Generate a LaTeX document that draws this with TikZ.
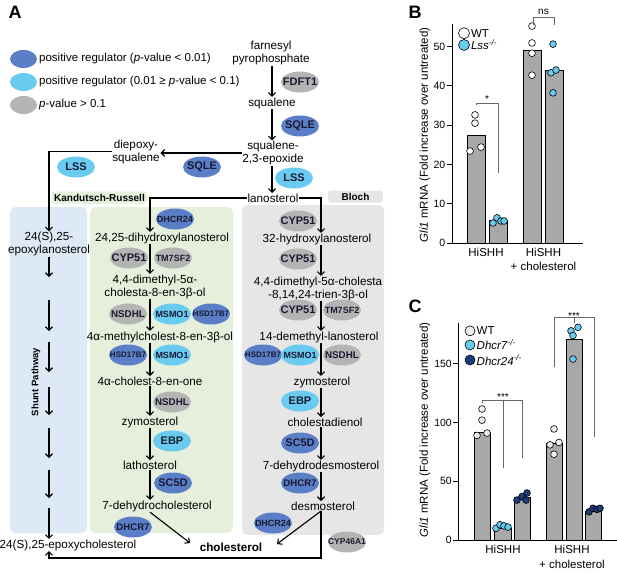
\documentclass[tikz,border=0pt]{standalone}
\usepackage{fontspec}
\setmainfont{Liberation Sans}
\usetikzlibrary{arrows.meta,positioning,shapes.geometric}

\definecolor{pstrong}{HTML}{5B7FC7}
\definecolor{pweak}{HTML}{69CBF0}
\definecolor{pnone}{HTML}{B4B4B4}
\definecolor{enztext}{HTML}{1A1A33}
\definecolor{shuntbg}{HTML}{DDE9F5}
\definecolor{krbg}{HTML}{E5EFDC}
\definecolor{blochbg}{HTML}{E6E6E6}
\definecolor{barfill}{HTML}{A8A8A8}
\definecolor{navy}{HTML}{1F3B7A}
\definecolor{wtgray}{HTML}{EEEEEE}
\definecolor{bracket}{HTML}{666666}

\begin{document}
\begin{tikzpicture}[x=1pt,y=-1pt,
>={Straight Barb[length=3.5pt,width=7pt]},
metab/.style={inner sep=0.5pt,align=center,font=\fontsize{11.7}{13}\selectfont},
enzyme/.style={ellipse,inner xsep=-8pt,inner ysep=0pt,minimum width=38pt,minimum height=21pt,text=enztext},
enzfs/.style={font=\fontsize{#1}{#1}\selectfont\bfseries},
enzhi/.style={enzyme,fill=pstrong,enzfs=11},
enzmid/.style={enzyme,fill=pweak,enzfs=11},
enzns/.style={enzyme,fill=pnone,enzfs=11},
flow/.style={->,line width=1.1pt},
panelbg/.style={rounded corners=6pt},
tagbox/.style={rounded corners=3pt,inner sep=1pt,minimum height=12pt,font=\fontsize{10}{10}\selectfont\bfseries},
barbox/.style={fill=barfill,draw=black,line width=0.8pt},
axline/.style={draw=black,line width=0.9pt},
ticklab/.style={anchor=east,inner sep=0pt,font=\fontsize{10.5}{11}\selectfont},
axlab/.style={rotate=90,inner sep=0pt,font=\fontsize{11.5}{12}\selectfont},
grplab/.style={anchor=north,inner sep=0pt,align=center,font=\fontsize{11.5}{14.5}\selectfont},
sigline/.style={draw=bracket,line width=0.9pt},
sigtxt/.style={inner sep=0pt,font=\fontsize{10}{10}\selectfont},
dotbase/.style={draw=black,line width=0.6pt},
legdot/.style={dotbase,circle,inner sep=0pt,minimum size=10pt},
legtxt/.style={anchor=west,inner sep=0pt,font=\fontsize{11.5}{12}\selectfont},
paneltag/.style={font=\fontsize{18}{18}\selectfont\bfseries,inner sep=0pt}
]
\useasboundingbox (0,0) rectangle (617,572);

% panel tags
\node[paneltag] (tagA) at (15,12) {A};
\node[paneltag] (tagB) at (415,12) {B};
\node[paneltag] (tagC) at (415,306) {C};

% legend
\node[enzhi,minimum width=27pt,minimum height=18pt] (lgA1) at (23.5,59) {};
\node[legtxt] (lgA1t) at (39,59) {positive regulator (\textit{p}-value < 0.01)};
\node[enzmid,minimum width=27pt,minimum height=18pt] (lgA2) at (23.5,82) {};
\node[legtxt] (lgA2t) at (39,82) {positive regulator (0.01 ≥ \textit{p}-value < 0.1)};
\node[enzns,minimum width=27pt,minimum height=18pt] (lgA3) at (23.5,105) {};
\node[legtxt] (lgA3t) at (39,105) {\textit{p}-value > 0.1};

% pathway panels
\fill[shuntbg,panelbg] (10,207) rectangle (87,533);
\fill[krbg,panelbg] (90,207) rectangle (233,533);
\fill[blochbg,panelbg] (242,205) rectangle (384,535);
\node[tagbox,fill=krbg,minimum width=95pt] (krtag) at (99.5,197.5) {Kandutsch-Russell};
\node[tagbox,fill=blochbg,minimum width=55pt] (bltag) at (355.5,196.5) {Bloch};
\node[rotate=90,inner sep=0pt,font=\fontsize{9.5}{10}\selectfont\bfseries] (shtag) at (36,382) {Shunt Pathway};

\coordinate (mainx) at (272,0);
\coordinate (shx) at (49,0);
\coordinate (krx) at (150,0);
\coordinate (blx) at (321,0);
\coordinate (loopy) at (0,558);
\coordinate (krtip) at (190,543);
\coordinate (bltip) at (277,544);

% metabolites
\node[metab] (fpp) at (271,53) {farnesyl\\pyrophosphate};
\node[metab] (sq) at (272,103) {squalene};
\node[metab] (ep) at (273,153) {squalene-\\2,3-epoxide};
\node[metab] (lano) at (273,198) {lanosterol};
\node[metab] (diep) at (136,151.5) {diepoxy-\\squalene};
\node[metab] (epl) at (49,244) {24(S),25-\\epoxylanosterol};
\node[metab] (epc) at (68,545) {24(S),25-epoxycholesterol};
\node[metab,font=\fontsize{11.7}{13}\selectfont\bfseries] (chol) at (231,547) {cholesterol};

\node[metab] (dhl) at (162,238) {24,25-dihydroxylanosterol};
\node[metab] (dmc) at (155,286.5) {4,4-dimethyl-5α-\\cholesta-8-en-3β-ol};
\node[metab] (mc) at (160,337) {4α-methylcholest-8-en-3β-ol};
\node[metab] (co) at (150,381) {4α-cholest-8-en-one};
\node[metab] (zya) at (150,422) {zymosterol};
\node[metab] (la) at (150,465) {lathosterol};
\node[metab] (dhc) at (157,506) {7-dehydrocholesterol};

\node[metab] (hl) at (317,239) {32-hydroxylanosterol};
\node[metab] (dmct) at (318,288.5) {4,4-dimethyl-5α-cholesta\\-8,14,24-trien-3β-ol};
\node[metab] (dml) at (319,337) {14-demethyl-lanosterol};
\node[metab] (zyb) at (322,382) {zymosterol};
\node[metab] (cd) at (325,422) {cholestadienol};
\node[metab] (dhd) at (321,466) {7-dehydrodesmosterol};
\node[metab] (des) at (323,506) {desmosterol};

% enzymes
\node[enzns] (fdft1) at (300,82) {FDFT1};
\node[enzhi] (sqlea) at (300,126) {SQLE};
\node[enzmid] (lssa) at (294,178) {LSS};
\node[enzhi] (sqleb) at (202,167) {SQLE};
\node[enzmid] (lssb) at (76,167) {LSS};

\node[enzhi,enzfs=9] (dhcr24a) at (175,219) {DHCR24};
\node[enzns] (cyp51a) at (129,258) {CYP51};
\node[enzns,enzfs=9] (tm7a) at (173,258) {TM7SF2};
\node[enzns,enzfs=9.8] (nsdhla) at (128,314) {NSDHL};
\node[enzmid,enzfs=9] (msmo1a) at (172,314) {MSMO1};
\node[enzhi,enzfs=8] (hsda) at (211,314) {HSD17B7};
\node[enzhi,enzfs=8] (hsdb) at (128,355) {HSD17B7};
\node[enzmid,enzfs=9] (msmo1b) at (172,355) {MSMO1};
\node[enzns,enzfs=9.8] (nsdhlb) at (172,402) {NSDHL};
\node[enzmid] (ebpa) at (172,441) {EBP};
\node[enzhi] (sc5da) at (173,483) {SC5D};
\node[enzhi,enzfs=9.6] (dhcr7a) at (133,527) {DHCR7};

\node[enzns] (cyp51b) at (298,221) {CYP51};
\node[enzns] (cyp51c) at (298,259) {CYP51};
\node[enzns] (cyp51d) at (298,310) {CYP51};
\node[enzns,enzfs=9] (tm7b) at (342,310) {TM7SF2};
\node[enzhi,enzfs=8] (hsdc) at (263,355) {HSD17B7};
\node[enzmid,enzfs=9] (msmo1c) at (300,355) {MSMO1};
\node[enzns,enzfs=9.8] (nsdhlc) at (342,355) {NSDHL};
\node[enzmid] (ebpb) at (300,401) {EBP};
\node[enzhi] (sc5db) at (300,443) {SC5D};
\node[enzhi,enzfs=9.6] (dhcr7b) at (300,483) {DHCR7};
\node[enzhi,enzfs=9] (dhcr24b) at (273,523) {DHCR24};
\node[enzns,enzfs=8.5] (cyp46) at (347,542) {CYP46A1};

% main trunk
\draw[flow] (mainx |- fpp.south) -- (mainx |- sq.north);
\draw[flow] (mainx |- sq.south) -- (mainx |- ep.north);
\draw[flow] (mainx |- ep.south) -- (mainx |- lano.north);
\draw[flow] (ep.west) -- (ep.west -| diep.east);
\draw[flow] (diep.west) -| (shx |- epl.north);
\draw[flow] (lano.west) -| (krx |- dhl.north);
\draw[flow] (lano.east) -| (blx |- hl.north);

% Kandutsch-Russell
\foreach \a/\b in {dhl/dmc,dmc/mc,mc/co,co/zya,zya/la,la/dhc}
\draw[flow] (krx |- \a.south) -- (krx |- \b.north);
\draw[flow] (krx |- dhc.south) -- (krtip);

% Bloch
\foreach \a/\b in {hl/dmct,dmct/dml,dml/zyb,zyb/cd,cd/dhd,dhd/des}
\draw[flow] (blx |- \a.south) -- (blx |- \b.north);
\draw[flow] (blx |- des.south) -- (bltip);
\draw[flow] (blx |- des.south) -- (blx |- loopy) -- (shx |- loopy) -- (shx |- epc.south);

% shunt
\draw[flow] (shx |- epl.south) -- (49,277);
\foreach \a/\b in {300/331,342/372,387/415,428/458,470/498}
\draw[flow] (49,\a) -- (49,\b);
\draw[flow] (49,508) -- (shx |- epc.north);

% panel B
\begin{scope}[shift={(452,243)},y=3.93pt]
\foreach \xa/\xb/\v in {15/33/27.5,37/55/5.8,71/89/48.9,93/111/44}
\draw[barbox] (\xa,0) rectangle (\xb,\v);
\draw[axline] (0,55.8) -- (0,0) -- (131,0);
\foreach \v in {0,10,...,50}
{\draw[axline] (-5,\v) -- (0,\v);
\node[ticklab] (bt\v) at (-6.5,\v) {\v};}
\node[axlab] (bylab) at (-27,27.5) {\textit{Gli1} mRNA (Fold increase over untreated)};
\foreach \x/\v/\c in {23/32.6/white,23/30.5/white,18/23.4/white,29/24.4/white,
41/5.1/pweak,45/6.4/pweak,49/5.6/pweak,52/5.6/pweak,
80/55.2/white,80/50.9/white,80/48.3/white,80/42.7/white,
101/50.6/pweak,99/43.3/pweak,104/44.0/pweak,101/38.2/pweak}
\draw[dotbase,fill=\c] (\x,\v) circle[radius=3.4pt];
\draw[sigline] (24,35.1) -- (24,35.6) -- (46,35.6) -- (46,17.8);
\node[sigtxt] (bsig1) at (35,36.6) {*};
\draw[sigline] (81,55.5) -- (81,57.5) -- (102,57.5) -- (102,55.5);
\node[sigtxt] (bsig2) at (91.5,58.8) {ns};
\node[legdot,fill=white,minimum size=11pt] (bkwt) at (12,53.4) {};
\node[legtxt] (bkwtt) at (18.8,53.4) {WT};
\node[legdot,fill=pweak,minimum size=11pt] (bklss) at (12,50.4) {};
\node[legtxt] (bklsst) at (18.8,50.4) {\textit{Lss}\textsuperscript{\textit{-/-}}};
\node[grplab] (bg1) at (34,-1.15) {HiSHH};
\node[grplab] (bg2) at (91.5,-1.15) {HiSHH\\+ cholesterol};
\end{scope}

% panel C
\begin{scope}[shift={(458,540)},y=1.175pt]
\foreach \xa/\xb/\v in {16/32/92,36/53/10,56/72/36,88/104/82.5,108/124/171,127/143/24}
\draw[barbox] (\xa,0) rectangle (\xb,\v);
\draw[axline] (0,185) -- (0,0) -- (159,0);
\foreach \v in {0,50,100,150}
{\draw[axline] (-5,\v) -- (0,\v);
\node[ticklab] (ct\v) at (-6,\v) {\v};}
\node[axlab] (cylab) at (-33,93.6) {\textit{Gli1} mRNA (Fold increase over untreated)};
\foreach \x/\v/\c in {24/111.5/wtgray,24/102/wtgray,19/89/wtgray,29/91/wtgray,
38/10/pweak,42/13/pweak,46/12/pweak,50/11/pweak,
59/34/navy,64/37/navy,69/40/navy,68/34/navy,
96/94.5/wtgray,101/83/wtgray,92/81/wtgray,96/73/wtgray,
113/178/pweak,120/181/pweak,115/174/pweak,115/154/pweak,
131/24/navy,135/27/navy,139/26/navy,142/27/navy}
\draw[dotbase,fill=\c] (\x,\v) circle[radius=3.4pt];
\draw[sigline] (24,116.6) -- (24,119) -- (64,119) -- (64,69.8);
\draw[sigline] (45,119) -- (45,61.3);
\node[sigtxt] (csig1) at (45,121.5) {***};
\draw[sigline] (96,147) -- (96,189.8) -- (136,189.8) -- (136,87.7);
\draw[sigline] (116,189.8) -- (116,184.7);
\node[sigtxt] (csig2) at (116,191) {***};
\node[legdot,fill=wtgray] (ckwt) at (12,178) {};
\node[legtxt] (ckwtt) at (18.5,178) {WT};
\node[legdot,fill=pweak] (ckd7) at (12,166) {};
\node[legtxt] (ckd7t) at (18.5,166) {\textit{Dhcr7}\textsuperscript{\textit{-/-}}};
\node[legdot,fill=navy] (ckd24) at (12,153.2) {};
\node[legtxt] (ckd24t) at (18.5,153.2) {\textit{Dhcr24}\textsuperscript{\textit{-/-}}};
\node[grplab] (cg1) at (45,-4.3) {HiSHH};
\node[grplab] (cg2) at (114,-4.3) {HiSHH\\+ cholesterol};
\end{scope}
\end{tikzpicture}
\end{document}
